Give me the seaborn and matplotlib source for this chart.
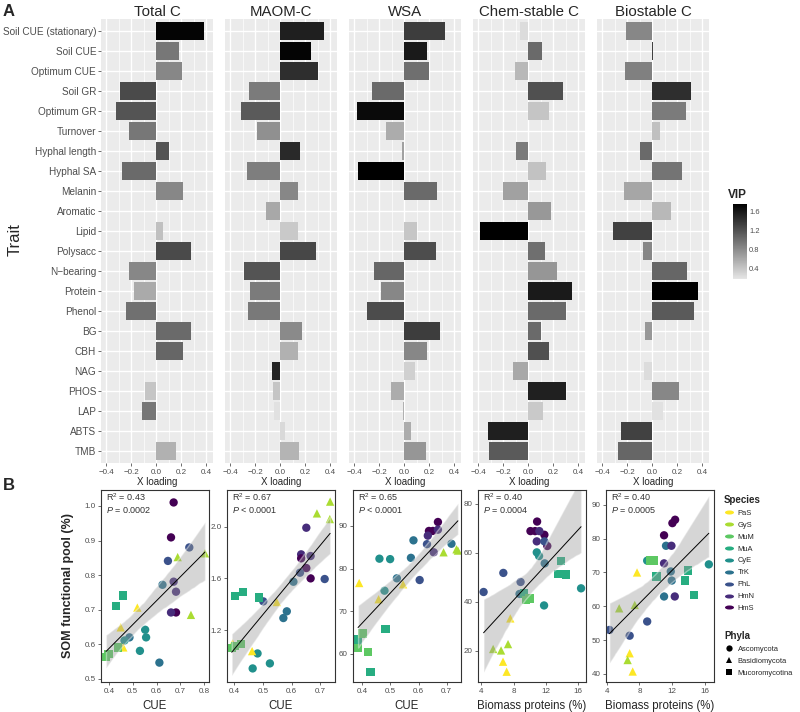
import numpy as np
import pandas as pd
import matplotlib
matplotlib.use("Agg")
import matplotlib.pyplot as plt
import seaborn as sns
from matplotlib.colors import LinearSegmentedColormap, Normalize
from matplotlib.cm import ScalarMappable
from matplotlib.path import Path
from matplotlib.transforms import Affine2D
from matplotlib.lines import Line2D

# ---- panel A data ----
traits = ["Soil CUE (stationary)", "Soil CUE", "Optimum CUE", "Soil GR", "Optimum GR",
          "Turnover", "Hyphal length", "Hyphal SA", "Melanin", "Aromatic", "Lipid",
          "Polysacc", "N\u2212bearing", "Protein", "Phenol", "BG", "CBH", "NAG", "PHOS",
          "LAP", "ABTS", "TMB"]
pools = ["Total C", "MAOM-C", "WSA", "Chem-stable C", "Biostable C"]

total_load = [0.387, 0.184, 0.205, -0.288, -0.317, -0.219, 0.101, -0.272, 0.219, 0.0, 0.059,
              0.280, -0.216, -0.173, -0.237, 0.277, 0.219, 0.003, -0.088, -0.112, 0.0, 0.157]
total_vip = [1.72, 0.93, 0.82, 1.24, 1.17, 0.93, 1.17, 1.02, 0.82, 0.20, 0.43,
             1.24, 0.82, 0.58, 0.98, 1.02, 1.05, 0.90, 0.40, 0.93, 0.20, 0.54]

maom_load = [0.355, 0.247, 0.302, -0.247, -0.316, -0.182, 0.160, -0.263, 0.145, -0.110, 0.142,
             0.287, -0.290, -0.237, -0.258, 0.174, 0.147, -0.068, -0.055, -0.045, 0.037, 0.150]
maom_vip = [1.54, 1.72, 1.43, 0.91, 1.13, 0.76, 1.46, 0.88, 0.82, 0.60, 0.37,
            1.26, 1.17, 0.91, 0.92, 0.80, 0.54, 1.50, 0.40, 0.21, 0.26, 0.51]

wsa_load = [0.328, 0.187, 0.197, -0.259, -0.376, -0.147, -0.019, -0.365, 0.261, 0.003, 0.101,
            0.259, -0.237, -0.181, -0.296, 0.285, 0.181, 0.085, -0.107, -0.011, 0.053, 0.173]
wsa_vip = [1.33, 1.57, 0.99, 1.02, 1.68, 0.57, 0.65, 1.75, 1.02, 0.25, 0.39,
           1.22, 1.05, 0.82, 1.23, 1.33, 0.82, 0.32, 0.57, 0.54, 0.57, 0.72]

chem_load = [-0.067, 0.115, -0.104, 0.277, 0.171, 0.0, -0.099, 0.144, -0.197, 0.184, -0.384,
             0.133, 0.235, 0.355, 0.307, 0.104, 0.171, -0.120, 0.301, 0.123, -0.317, -0.309]
chem_vip = [0.24, 1.02, 0.49, 1.20, 0.40, 0.20, 0.91, 0.42, 0.65, 0.71, 1.75,
            0.99, 0.72, 1.57, 1.02, 1.02, 1.20, 0.60, 1.53, 0.37, 1.54, 1.13]

bio_load = [-0.208, 0.005, -0.213, 0.309, 0.275, 0.061, -0.096, 0.243, -0.221, 0.155, -0.315,
            -0.069, 0.283, 0.365, 0.333, -0.053, 0.0, -0.061, 0.216, 0.088, -0.245, -0.275]
bio_vip = [0.82, 1.30, 0.87, 1.43, 0.91, 0.43, 1.02, 0.95, 0.61, 0.49, 1.30,
           0.82, 1.05, 1.75, 1.13, 0.71, 0.20, 0.24, 0.82, 0.21, 1.30, 1.05]

# ---- panel B data ----
species = ["PaS", "GyS", "MuM", "MuA", "CyE", "TrK", "PhL", "HmN", "HmS"]
species_colors = ["#FDE725", "#AADC32", "#5DC863", "#27AD81", "#21908C",
                  "#2C728E", "#3B528B", "#472D7B", "#440154"]
phyla = ["Ascomycota", "Basidiomycota", "Mucoromycotina"]
species_phylum = ["Basidiomycota", "Basidiomycota", "Mucoromycotina", "Mucoromycotina",
                  "Ascomycota", "Ascomycota", "Ascomycota", "Ascomycota", "Ascomycota"]

tot_cue = [0.672, 0.661, 0.682, 0.661, 0.672, 0.682, 0.648, 0.738, 0.625, 0.486, 0.612,
           0.552, 0.556, 0.465, 0.530, 0.689, 0.804, 0.745, 0.519, 0.449, 0.460,
           0.460, 0.428, 0.437, 0.397, 0.387]
tot_som = [1.010, 0.909, 0.692, 0.692, 0.781, 0.752, 0.841, 0.880, 0.772, 0.620, 0.547,
           0.642, 0.620, 0.611, 0.581, 0.852, 0.863, 0.685, 0.706, 0.649, 0.591,
           0.741, 0.711, 0.591, 0.572, 0.563]
tot_sp = ["HmS", "HmS", "HmS", "HmN", "HmN", "HmN", "PhL", "PhL", "TrK", "TrK", "TrK",
          "CyE", "CyE", "CyE", "CyE", "GyS", "GyS", "GyS", "PaS", "PaS", "PaS",
          "MuA", "MuA", "MuM", "MuM", "MuM"]

maom_cue = [0.734, 0.688, 0.733, 0.651, 0.633, 0.666, 0.633, 0.651, 0.666, 0.715, 0.629,
            0.501, 0.606, 0.583, 0.571, 0.481, 0.524, 0.464, 0.403, 0.431, 0.487,
            0.548, 0.394, 0.462, 0.423, 0.391, 0.402]
maom_som = [2.194, 2.103, 2.059, 1.992, 1.786, 1.773, 1.755, 1.680, 1.600, 1.595, 1.644,
            1.422, 1.574, 1.345, 1.293, 1.019, 0.942, 0.903, 1.463, 1.494, 1.453,
            1.417, 1.097, 1.037, 1.092, 1.061, 1.075]
maom_sp = ["GyS", "GyS", "GyS", "HmN", "HmN", "HmN", "HmS", "HmS", "HmS", "PhL", "PhL",
           "PhL", "TrK", "TrK", "TrK", "CyE", "CyE", "CyE", "MuA", "MuA", "MuA",
           "PaS", "PaS", "PaS", "MuM", "MuM", "MuM"]

wsa_cue = [0.389, 0.458, 0.545, 0.461, 0.499, 0.479, 0.523, 0.582, 0.573, 0.717, 0.604,
           0.630, 0.637, 0.651, 0.669, 0.669, 0.633, 0.654, 0.689, 0.735, 0.740,
           0.483, 0.385, 0.429, 0.385, 0.401, 0.420]
wsa_som = [76.6, 72.8, 76.3, 82.3, 82.2, 74.8, 77.7, 86.6, 82.5, 85.8, 77.3,
           85.7, 88.8, 88.8, 90.9, 89.1, 87.7, 83.8, 83.8, 84.5, 84.2,
           65.9, 63.4, 55.7, 61.4, 64.8, 60.4]
wsa_sp = ["PaS", "PaS", "PaS", "CyE", "CyE", "CyE", "TrK", "TrK", "TrK", "TrK", "PhL",
          "PhL", "HmS", "HmS", "HmS", "HmN", "HmN", "HmN", "GyS", "GyS", "GyS",
          "MuA", "MuA", "MuA", "MuM", "MuM", "MuM"]

chem_prot = [10.90, 10.08, 10.65, 11.80, 12.16, 11.18, 10.86, 11.80, 4.29, 6.73, 8.86,
             11.84, 8.73, 10.86, 11.14, 16.33, 11.76, 13.84, 13.47, 14.45, 9.27,
             9.55, 9.96, 7.59, 6.69, 7.14, 5.47, 6.45, 7.31]
chem_som = [72.8, 68.9, 68.9, 67.4, 62.8, 68.9, 64.7, 64.7, 44.0, 51.8, 48.1,
            55.7, 43.2, 60.2, 58.7, 45.5, 38.5, 56.8, 51.4, 51.1, 43.4,
            40.7, 41.3, 33.2, 15.5, 11.4, 20.7, 20.1, 22.7]
chem_sp = ["HmS", "HmS", "HmS", "HmS", "HmS", "HmN", "HmN", "PhL", "PhL", "PhL", "PhL",
           "TrK", "TrK", "CyE", "CyE", "CyE", "CyE", "MuA", "MuA", "MuA", "MuA",
           "MuM", "MuM", "PaS", "PaS", "PaS", "GyS", "GyS", "GyS"]

bio_prot = [12.35, 12.02, 11.00, 11.24, 11.82, 11.94, 11.00, 11.90, 11.00, 12.31, 8.94,
            16.47, 9.35, 9.76, 13.96, 10.09, 13.59, 14.62, 7.70, 6.80, 7.17,
            5.52, 7.42, 6.55, 8.94, 4.33, 6.80]
bio_som = [85.6, 84.6, 81.0, 77.9, 70.3, 67.6, 62.9, 77.9, 72.7, 62.9, 73.5,
           72.4, 73.5, 73.5, 70.6, 68.8, 67.6, 63.4, 70.0, 46.1, 40.7,
           59.4, 60.4, 44.1, 55.5, 53.0, 51.3]
bio_sp = ["HmS", "HmS", "HmS", "TrK", "TrK", "TrK", "TrK", "HmN", "HmN", "HmN", "CyE",
          "CyE", "MuM", "MuM", "MuA", "MuA", "MuA", "MuA", "PaS", "PaS", "PaS",
          "GyS", "GyS", "GyS", "PhL", "PhL", "PhL"]

stats_r2 = ["0.43", "0.67", "0.65", "0.40", "0.40"]
stats_p = ["= 0.0002", "< 0.0001", "< 0.0001", "= 0.0004", "= 0.0005"]

# ---- style ----
sns.set_theme(style="white")
plt.rcParams["font.family"] = ["Liberation Sans", "DejaVu Sans"]
plt.rcParams["mathtext.fontset"] = "custom"
plt.rcParams["mathtext.rm"] = "Liberation Sans"
plt.rcParams["mathtext.it"] = "Liberation Sans:italic"

W, H = 800, 712
fig = plt.figure(figsize=(W / 100, H / 100), dpi=100)


def box(l, t, w, h):
    return [l / W, 1 - (t + h) / H, w / W, h / H]


cmap = LinearSegmentedColormap.from_list("vip", ["#e6e6e6", "#000000"])
norm = Normalize(0.17, 1.75)

panel_a = [(total_load, total_vip), (maom_load, maom_vip), (wsa_load, wsa_vip),
           (chem_load, chem_vip), (bio_load, bio_vip)]

for i, (name, (load, vip)) in enumerate(zip(pools, panel_a)):
    ax = fig.add_axes(box(101 + i * 124, 19, 112, 444))
    df = pd.DataFrame({"trait": traits, "loading": load, "vip": vip})
    pal = {t: cmap(norm(v)) for t, v in zip(traits, vip)}
    sns.barplot(data=df, x="loading", y="trait", hue="trait", order=traits,
                palette=pal, legend=False, width=0.9, saturation=1, linewidth=0, ax=ax)
    ax.set_facecolor("#EBEBEB")
    ax.set_xlim(-0.44, 0.455)
    ax.set_ylim(21.6, -0.6)
    ax.set_xticks([-0.4, -0.2, 0.0, 0.2, 0.4])
    ax.set_xticks([-0.3, -0.1, 0.1, 0.3], minor=True)
    ax.grid(True, which="major", color="white", lw=1.0)
    ax.grid(True, which="minor", axis="x", color="white", lw=0.5)
    ax.set_axisbelow(True)
    for s in ax.spines.values():
        s.set_visible(False)
    ax.set_title(name, fontsize=10.8, pad=2.5)
    ax.set_xlabel("X loading", fontsize=7, labelpad=1)
    ax.set_ylabel("")
    ax.tick_params(axis="x", which="major", labelsize=5.8, color="#333333",
                   labelcolor="#4d4d4d", length=2.5, width=0.5, pad=1.5, bottom=True)
    ax.tick_params(axis="x", which="minor", bottom=False)
    if i == 0:
        ax.tick_params(axis="y", labelsize=7.2, color="#333333", labelcolor="#4d4d4d",
                       length=2.5, width=0.5, pad=1, left=True)
    else:
        ax.tick_params(axis="y", left=False, labelleft=False)

fig.text(15 / W, 1 - 240 / H, "Trait", rotation=90, fontsize=12, ha="center", va="center")
fig.text(3 / W, 1 - 11 / H, "A", fontsize=12, fontweight="bold", ha="left", va="center")

# VIP colour bar
cax = fig.add_axes(box(733, 204, 14, 75))
cb = fig.colorbar(ScalarMappable(norm=norm, cmap=cmap), cax=cax, ticks=[0.4, 0.8, 1.2, 1.6])
cb.outline.set_visible(False)
cax.tick_params(labelsize=5.4, colors="white", labelcolor="#4d4d4d", length=2.5,
                width=0.5, direction="in", pad=1.5)
fig.text(728 / W, 1 - 195 / H, "VIP", fontsize=8.5, fontweight="bold", ha="left", va="center")

# ---- panel B ----
pal_sp = dict(zip(species, species_colors))
phylum_of = dict(zip(species, species_phylum))
markers = {"Ascomycota": "o", "Basidiomycota": "^", "Mucoromycotina": "s"}

panel_b = [
    (tot_cue, tot_som, tot_sp, "CUE", (0.366, 0.821), (0.491, 1.046),
     [0.4, 0.5, 0.6, 0.7, 0.8], [0.5, 0.6, 0.7, 0.8, 0.9, 1.0], "{:.1f}"),
    (maom_cue, maom_som, maom_sp, "CUE", (0.3745, 0.751), (0.798, 2.284),
     [0.4, 0.5, 0.6, 0.7], [1.2, 1.6, 2.0], "{:.1f}"),
    (wsa_cue, wsa_som, wsa_sp, "CUE", (0.367, 0.751), (53.4, 98.4),
     [0.4, 0.5, 0.6, 0.7], [60, 70, 80, 90], "{:.0f}"),
    (chem_prot, chem_som, chem_sp, "Biomass proteins (%)", (3.6, 16.94), (7.2, 85.7),
     [4, 8, 12, 16], [20, 40, 60, 80], "{:.0f}"),
    (bio_prot, bio_som, bio_sp, "Biomass proteins (%)", (3.91, 17.1), (37.6, 94.4),
     [4, 8, 12, 16], [40, 50, 60, 70, 80, 90], "{:.0f}"),
]
b_lefts = [101, 227, 353, 478, 606]

for i, (xs, ys, sp, xlab, xlim, ylim, xt, yt, yfmt) in enumerate(panel_b):
    ax = fig.add_axes(box(b_lefts[i], 490, 108, 192))
    d = pd.DataFrame({"x": xs, "y": ys, "species": sp})
    d["phylum"] = d["species"].map(phylum_of)
    sns.scatterplot(data=d, x="x", y="y", hue="species", style="phylum",
                    hue_order=species, palette=pal_sp, markers=markers, s=36,
                    linewidth=0, legend=False, ax=ax)
    sns.regplot(data=d, x="x", y="y", scatter=False, color="black",
                line_kws={"lw": 0.7}, seed=3, ax=ax)
    band = ax.collections[-1]
    band.set_facecolor("#999999")
    band.set_alpha(0.4)
    ax.set_xlim(*xlim)
    ax.set_ylim(*ylim)
    ax.set_xticks(xt)
    ax.set_yticks(yt)
    ax.set_yticklabels([yfmt.format(v) for v in yt])
    ax.tick_params(labelsize=5.8, color="#333333", labelcolor="#4d4d4d", length=2.5,
                   width=0.5, pad=1.5, bottom=True, left=True)
    for s in ax.spines.values():
        s.set_color("#333333")
        s.set_linewidth(0.8)
    ax.set_xlabel(xlab, fontsize=8.3, labelpad=4)
    ax.set_ylabel("")
    ax.text(0.045, 0.965, r"R$^2$ = " + stats_r2[i], transform=ax.transAxes,
            fontsize=6.5, color="#333333", ha="left", va="center")
    ax.text(0.045, 0.895, r"$P$ " + stats_p[i], transform=ax.transAxes,
            fontsize=6.5, color="#333333", ha="left", va="center")

fig.text(68 / W, 1 - 585 / H, "SOM functional pool (%)", rotation=90, fontsize=9,
         fontweight="bold", ha="center", va="center")
fig.text(3 / W, 1 - 486 / H, "B", fontsize=12, fontweight="bold", ha="left", va="center")

# legends
ellipse = Path.unit_circle().transformed(Affine2D().scale(1, 0.45))
sp_handles = [Line2D([], [], ls="none", marker=ellipse, markersize=6.5, color=c,
                     markeredgewidth=0) for c in species_colors]
leg1 = fig.legend(sp_handles, species, title="Species", loc="upper left",
                  bbox_to_anchor=(724 / W, 1 - 495 / H), frameon=False, fontsize=5.4,
                  title_fontproperties={"weight": "bold", "size": 7},
                  handlelength=1.3, handletextpad=0.5, labelspacing=0.62,
                  alignment="left", borderaxespad=0, borderpad=0)
ph_handles = [Line2D([], [], ls="none", marker=markers[p], markersize=4.5, color="black",
                     markeredgewidth=0) for p in phyla]
leg2 = fig.legend(ph_handles, phyla, title="Phyla", loc="upper left",
                  bbox_to_anchor=(724 / W, 1 - 631 / H), frameon=False, fontsize=5.4,
                  title_fontproperties={"weight": "bold", "size": 7},
                  handlelength=1.3, handletextpad=0.5, labelspacing=0.62,
                  alignment="left", borderaxespad=0, borderpad=0)

fig.savefig("out.png", dpi=100)
